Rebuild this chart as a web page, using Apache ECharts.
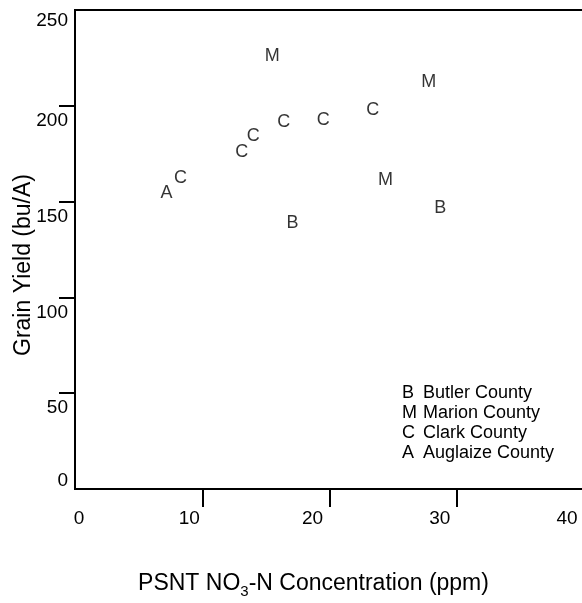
<!DOCTYPE html>
<html>
<head>
<meta charset="utf-8">
<script src="https://cdn.jsdelivr.net/npm/echarts@6/dist/echarts.min.js"></script>
<style>
html,body{margin:0;padding:0;background:#fff;}
#chart{width:582px;height:603px;}
</style>
</head>
<body>
<div id="chart"></div>
<script>
// ---- data (x = PSNT NO3-N ppm, y = grain yield bu/A) ----
const butler   = [[17.1, 138.7], [28.7, 146.7]];
const marion   = [[15.5, 225.8], [27.8, 212.6], [24.4, 161.1]];
const clark    = [[8.3, 162.2], [13.1, 176.0], [14.0, 184.3], [16.4, 191.7], [19.5, 192.6], [23.4, 197.7]];
const auglaize = [[7.2, 154.5]];

const seriesNames   = ['Butler County', 'Marion County', 'Clark County', 'Auglaize County'];
const seriesLetters = ['B', 'M', 'C', 'A'];
const seriesData    = [butler, marion, clark, auglaize];

const xTickLabels = [0, 10, 20, 30, 40];
const xTickMarks  = [10, 20, 30];
const yTickLabels = [0, 50, 100, 150, 200, 250];
const yTickMarks  = [50, 100, 150, 200];

const FONT = "'Liberation Sans', Arial, Helvetica, sans-serif";
const INK = '#000';

const chart = echarts.init(document.getElementById('chart'), null, {renderer: 'canvas'});

const series = seriesData.map((d, i) => ({
  type: 'scatter',
  name: seriesNames[i],
  data: d,
  symbol: 'circle',
  symbolSize: 1,
  itemStyle: {color: 'rgba(0,0,0,0)'},
  silent: true,
  emphasis: {disabled: true},
  label: {
    show: true,
    position: 'inside',
    formatter: seriesLetters[i],
    color: INK,
    fontSize: 18,
    fontFamily: FONT
  }
}));

const letterOf = {};
seriesNames.forEach((n, i) => { letterOf[n] = seriesLetters[i]; });

chart.setOption({
  animation: false,
  backgroundColor: '#fff',
  grid: {
    left: 75, top: 10, right: -2, bottom: 114,
    show: true, borderColor: INK, borderWidth: 2,
    outerBoundsMode: 'none', containLabel: false
  },
  legend: {
    orient: 'vertical',
    left: 397, top: 383,
    padding: 0,
    itemGap: 0,
    itemWidth: 0, itemHeight: 0,
    icon: 'none',
    selectedMode: false,
    data: seriesNames,
    formatter: name => '{k|' + letterOf[name] + '}{n|' + name + '}',
    textStyle: {
      color: INK, fontFamily: FONT, fontSize: 18, lineHeight: 20,
      rich: {
        k: {width: 21, color: INK, fontFamily: FONT, fontSize: 18, lineHeight: 20},
        n: {color: INK, fontFamily: FONT, fontSize: 18, lineHeight: 20}
      }
    }
  },
  xAxis: {
    type: 'value', min: 0, max: 40, interval: 10,
    splitLine: {show: false},
    axisLine: {show: true, lineStyle: {color: INK, width: 2}},
    axisTick: {show: true, length: 18, lineStyle: {color: INK, width: 2}, customValues: xTickMarks},
    axisLabel: {
      customValues: xTickLabels,
      margin: 20,
      color: INK, fontFamily: FONT, fontSize: 19,
      formatter: v => v === 0 ? '{z|0}' : (v === 10 ? '{a|10}' : '{n|' + v + '}'),
      rich: {
        z: {padding: [0, 0, 0, 8], color: INK, fontFamily: FONT, fontSize: 19},
        a: {padding: [0, 26, 0, 0], color: INK, fontFamily: FONT, fontSize: 19},
        n: {padding: [0, 34, 0, 0], color: INK, fontFamily: FONT, fontSize: 19}
      }
    },
    name: '{t|PSNT NO}{s|3}{t|-N Concentration (ppm)}',
    nameLocation: 'middle',
    nameGap: 82,
    nameMoveOverlap: false,
    nameTextStyle: {
      padding: [0, 32, 0, 0],
      rich: {
        t: {color: INK, fontFamily: FONT, fontSize: 23, lineHeight: 26},
        s: {color: INK, fontFamily: FONT, fontSize: 15, lineHeight: 26, padding: [16, 0, 0, 0]}
      }
    }
  },
  yAxis: {
    type: 'value', min: 0, max: 250, interval: 50,
    splitLine: {show: false},
    axisLine: {show: true, lineStyle: {color: INK, width: 2}},
    axisTick: {show: true, length: 16, lineStyle: {color: INK, width: 2}, customValues: yTickMarks},
    axisLabel: {
      customValues: yTickLabels,
      margin: 7,
      color: INK, fontFamily: FONT, fontSize: 19,
      formatter: v => v === 0 ? '{z|0}' : (v === 250 ? '{w|250}' : '{n|' + v + '}'),
      rich: {
        z: {padding: [0, 0, 16, 0], color: INK, fontFamily: FONT, fontSize: 19},
        w: {padding: [22, 0, 0, 0], color: INK, fontFamily: FONT, fontSize: 19},
        n: {padding: [30, 0, 0, 0], color: INK, fontFamily: FONT, fontSize: 19}
      }
    },
    name: 'Grain Yield (bu/A)',
    nameLocation: 'middle',
    nameGap: 38,
    nameMoveOverlap: false,
    nameTextStyle: {
      color: INK, fontFamily: FONT, fontSize: 23, lineHeight: 26,
      padding: [0, 31, 0, 0]
    }
  },
  series: series
});
</script>
</body>
</html>
